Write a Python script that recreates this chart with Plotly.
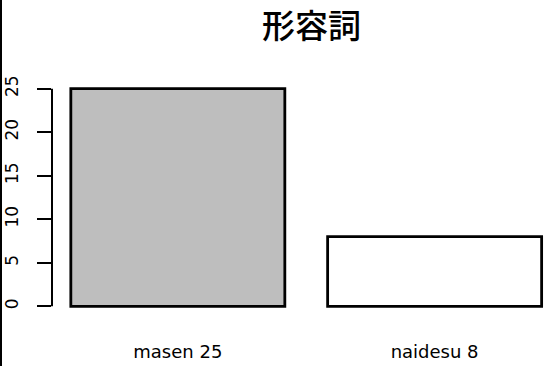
import plotly.graph_objects as go

title = "形容詞"
categories = ["masen 25", "naidesu 8"]
values = [25, 8]
y_ticks = [0, 5, 10, 15, 20, 25]

# R barplot geometry: width 1, space 0.2
positions = [0.2 + 0.5 + i * 1.2 for i in range(len(categories))]
bar_colors = ["#BEBEBE", "#FFFFFF"]

W, H = 550, 366
ml, mr, mt, mb = 52, 0, 80, 51
pw = W - ml - mr
ph = H - mt - mb
px_per_unit = 214.0
x0 = 0.112
x1 = x0 + pw / px_per_unit

fig = go.Figure(go.Bar(
    x=positions, y=values, width=1.0,
    marker=dict(color=bar_colors, line=dict(color="black", width=2.8)),
    hoverinfo="skip",
))

fig.update_layout(
    width=W, height=H,
    margin=dict(l=ml, r=mr, t=mt, b=mb, pad=0),
    paper_bgcolor="white", plot_bgcolor="white",
    showlegend=False,
    font=dict(family="DejaVu Sans", size=17, color="black"),
)
fig.update_xaxes(
    range=[x0, x1], tickvals=positions, ticktext=categories,
    showline=False, showgrid=False, zeroline=False, ticks="",
    ticklabelstandoff=24, tickfont=dict(size=18), automargin=False,
)
fig.update_yaxes(
    range=[-1, 26], tickvals=y_ticks, ticktext=[str(v) for v in y_ticks],
    showline=False, showgrid=False, zeroline=False,
    ticks="outside", ticklen=14, tickwidth=2, tickcolor="black",
    tickangle=-90, tickfont=dict(size=17), ticklabelstandoff=12,
    automargin=False,
)
# axis line from first to last tick (R style)
fig.add_shape(type="line", xref="paper", yref="y", x0=0, x1=0,
              y0=y_ticks[0], y1=y_ticks[-1], line=dict(color="black", width=2))
# left border line of the image
fig.add_shape(type="line", xref="paper", yref="paper",
              x0=(1 - ml) / pw, x1=(1 - ml) / pw, y0=-mb / ph, y1=1 + mt / ph,
              line=dict(color="black", width=2))
fig.add_annotation(text=title, xref="paper", yref="paper",
                   x=(311 - ml) / pw, y=1 + (mt - 24) / ph,
                   xanchor="center", yanchor="middle", showarrow=False,
                   font=dict(family="Noto Sans CJK JP", size=33, weight=500, color="black"))

fig.write_html("out.html", config={"displayModeBar": False},
               post_script="document.body.style.margin='0';")
